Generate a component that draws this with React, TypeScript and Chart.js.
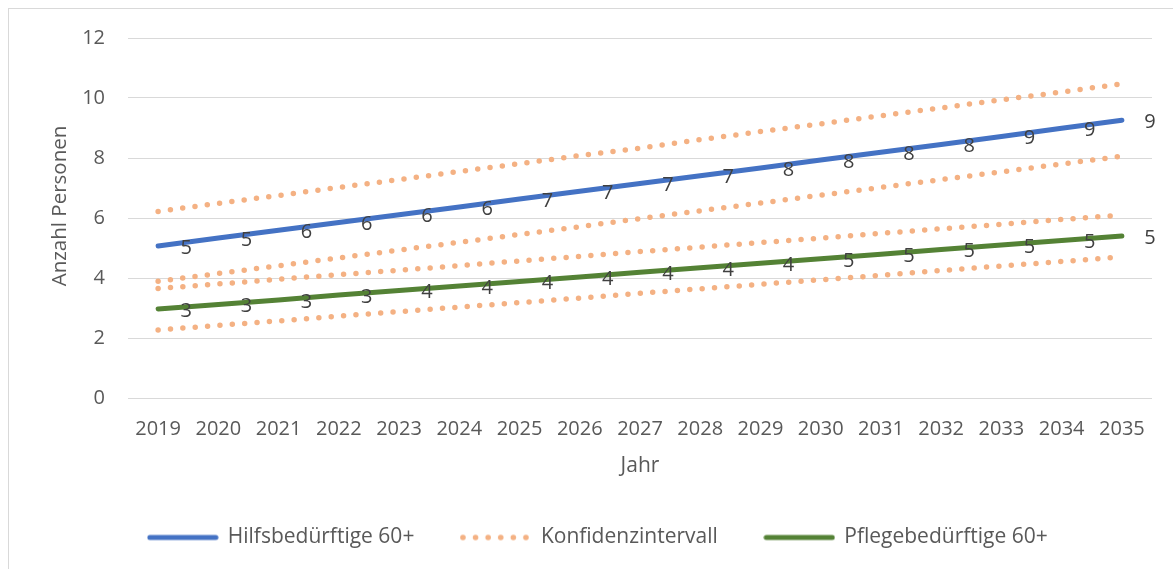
import React, { useEffect, useRef } from "react";
import { Chart, registerables } from "chart.js";

Chart.register(...registerables);

// ---- data ----
const years = ["2019", "2020", "2021", "2022", "2023", "2024", "2025", "2026", "2027", "2028", "2029", "2030", "2031", "2032", "2033", "2034", "2035"];
const hilfsbeduerftige = [5.07, 5.33, 5.59, 5.85, 6.11, 6.37, 6.63, 6.89, 7.15, 7.41, 7.67, 7.93, 8.19, 8.45, 8.72, 8.99, 9.26];
const pflegebeduerftige = [2.97, 3.12, 3.27, 3.43, 3.58, 3.73, 3.88, 4.03, 4.19, 4.34, 4.49, 4.64, 4.79, 4.95, 5.1, 5.25, 5.4];
const hilfsOben = [6.22, 6.49, 6.75, 7.02, 7.28, 7.55, 7.81, 8.08, 8.33, 8.61, 8.88, 9.14, 9.41, 9.67, 9.94, 10.2, 10.47];
const hilfsUnten = [3.89, 4.15, 4.41, 4.67, 4.93, 5.19, 5.45, 5.71, 5.98, 6.24, 6.5, 6.76, 7.02, 7.28, 7.54, 7.8, 8.06];
const pflegeOben = [3.65, 3.8, 3.96, 4.11, 4.26, 4.41, 4.57, 4.72, 4.88, 5.03, 5.18, 5.33, 5.49, 5.64, 5.79, 5.95, 6.1];
const pflegeUnten = [2.27, 2.42, 2.57, 2.73, 2.88, 3.03, 3.18, 3.33, 3.49, 3.64, 3.79, 3.94, 4.09, 4.25, 4.4, 4.55, 4.7];
const yMin = 0;
const yMax = 12;
const yStep = 2;
const legendNames = ["Hilfsbedürftige 60+", "Konfidenzintervall", "Pflegebedürftige 60+"];
const xTitle = "Jahr";
const yTitle = "Anzahl Personen";

// ---- style ----
const BLUE = "#4472C4";
const GREEN = "#548235";
const ORANGE = "#F4B183";
const TEXT = "#595959";
const LABEL = "#404040";
const GRID = "#D9D9D9";
const FONT = "'Open Sans', sans-serif";

function sample(color: string, dotted: boolean): HTMLCanvasElement {
  const c = document.createElement("canvas");
  c.width = 72;
  c.height = 8;
  const ctx = c.getContext("2d")!;
  ctx.strokeStyle = color;
  ctx.fillStyle = color;
  if (dotted) {
    for (let i = 0; i < 6; i++) {
      ctx.beginPath();
      ctx.arc(3 + i * 12.6, 4, 2.8, 0, Math.PI * 2);
      ctx.fill();
    }
  } else {
    ctx.lineWidth = 5;
    ctx.lineCap = "round";
    ctx.beginPath();
    ctx.moveTo(3, 4);
    ctx.lineTo(69, 4);
    ctx.stroke();
  }
  return c;
}

const valueLabels = {
  id: "valueLabels",
  afterDatasetsDraw(chart: any) {
    const ctx = chart.ctx;
    ctx.save();
    ctx.font = `20px ${FONT}`;
    ctx.fillStyle = LABEL;
    ctx.textAlign = "center";
    ctx.textBaseline = "middle";
    [0, 5].forEach((i) => {
      const ds = chart.data.datasets[i];
      const meta = chart.getDatasetMeta(i);
      meta.data.forEach((pt: any, j: number) => {
        ctx.fillText(String(Math.round(ds.data[j])), pt.x + 28, pt.y + 2);
      });
    });
    ctx.restore();
  },
};

const yAxisTitle = {
  id: "yAxisTitle",
  afterDraw(chart: any) {
    const ctx = chart.ctx;
    const s = chart.scales.y;
    ctx.save();
    ctx.font = `20.5px ${FONT}`;
    ctx.fillStyle = TEXT;
    ctx.textAlign = "center";
    ctx.textBaseline = "middle";
    ctx.translate(s.left + 16, (s.top + s.bottom) / 2 - 12);
    ctx.rotate(-Math.PI / 2);
    ctx.fillText(yTitle, 0, 0);
    ctx.restore();
  },
};

export default function App() {
  const ref = useRef<HTMLCanvasElement | null>(null);

  useEffect(() => {
    if (!ref.current) return;
    const dotted = (label: string, data: number[]) => ({
      label,
      data,
      borderColor: ORANGE,
      backgroundColor: ORANGE,
      borderWidth: 5.5,
      borderDash: [0, 12.4],
      borderCapStyle: "round" as const,
      pointRadius: 0,
      tension: 0,
    });
    const solid = (label: string, data: number[], color: string) => ({
      label,
      data,
      borderColor: color,
      backgroundColor: color,
      borderWidth: 5,
      borderCapStyle: "round" as const,
      pointRadius: 0,
      tension: 0,
    });
    const samples = [sample(BLUE, false), sample(ORANGE, true), sample(GREEN, false)];

    const chart = new Chart(ref.current, {
      type: "line",
      data: {
        labels: years,
        datasets: [
          solid(legendNames[0], hilfsbeduerftige, BLUE),
          dotted(legendNames[1], hilfsOben),
          dotted(legendNames[1], hilfsUnten),
          dotted(legendNames[1], pflegeOben),
          dotted(legendNames[1], pflegeUnten),
          solid(legendNames[2], pflegebeduerftige, GREEN),
        ] as any,
      },
      options: {
        animation: false,
        responsive: false,
        layout: { padding: { left: 35, right: 21, top: 29, bottom: 11 } },
        plugins: {
          tooltip: { enabled: false },
          legend: {
            position: "bottom",
            labels: {
              font: { family: FONT, size: 21 },
              color: TEXT,
              usePointStyle: true,
              pointStyleWidth: 69,
              padding: 47,
              generateLabels: () =>
                [0, 1, 5].map((dsIndex, k) => ({
                  text: legendNames[k],
                  pointStyle: samples[k],
                  fillStyle: "rgba(0,0,0,0)",
                  strokeStyle: "rgba(0,0,0,0)",
                  lineWidth: 0,
                  hidden: false,
                  datasetIndex: dsIndex,
                  fontColor: TEXT,
                })) as any,
            },
          },
        },
        scales: {
          x: {
            offset: true,
            grid: { display: false, drawTicks: false },
            border: { display: false },
            ticks: { color: TEXT, font: { family: FONT, size: 20 }, padding: 19, maxRotation: 0, autoSkip: false },
            title: { display: true, text: xTitle, color: TEXT, font: { family: FONT, size: 21 }, padding: { top: 0, bottom: 1 } },
            afterFit: (s: any) => {
              s.height = 82;
            },
          },
          y: {
            min: yMin,
            max: yMax,
            grid: { color: GRID, lineWidth: 1, drawTicks: true, tickLength: 17, tickColor: "rgba(0,0,0,0)" },
            border: { display: false },
            ticks: { stepSize: yStep, color: TEXT, font: { family: FONT, size: 20 }, padding: 6 },
            title: { display: false, text: yTitle },
            afterFit: (s: any) => {
              s.width = 84;
            },
          },
        },
      },
      plugins: [valueLabels, yAxisTitle],
    });
    return () => chart.destroy();
  }, []);

  return (
    <div
      style={{
        position: "fixed",
        left: 8,
        top: 8,
        width: 1165,
        height: 561,
        borderLeft: `1px solid ${GRID}`,
        borderTop: `1px solid ${GRID}`,
        boxSizing: "border-box",
        background: "#fff",
      }}
    >
      <canvas ref={ref} width={1164} height={560} style={{ display: "block" }} />
    </div>
  );
}
